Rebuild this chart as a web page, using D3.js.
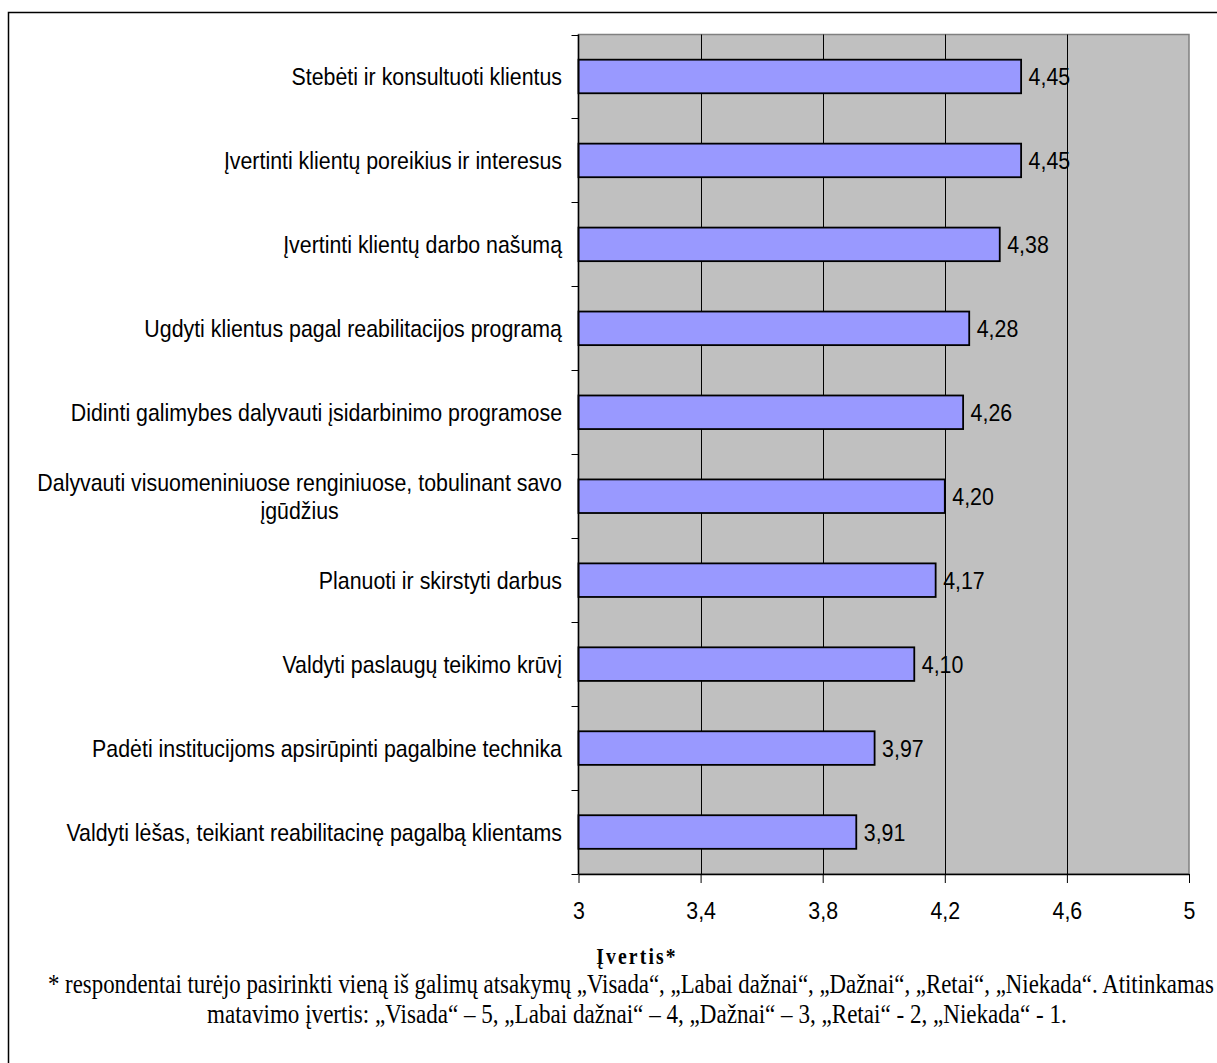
<!DOCTYPE html>
<html>
<head>
<meta charset="utf-8">
<script src="https://cdn.jsdelivr.net/npm/d3@7"></script>
<style>
  body { margin: 0; background: #fff; }
  svg { display: block; }
</style>
</head>
<body>
<svg id="chart" width="1217" height="1063"></svg>
<script>
// Task categories, top to bottom
const categories = [
  "Stebėti ir konsultuoti klientus",
  "Įvertinti klientų poreikius ir interesus",
  "Įvertinti klientų darbo našumą",
  "Ugdyti klientus pagal reabilitacijos programą",
  "Didinti galimybes dalyvauti įsidarbinimo programose",
  "Dalyvauti visuomeniniuose renginiuose, tobulinant savo\nįgūdžius",
  "Planuoti ir skirstyti darbus",
  "Valdyti paslaugų teikimo krūvį",
  "Padėti institucijoms apsirūpinti pagalbine technika",
  "Valdyti lėšas, teikiant reabilitacinę pagalbą klientams"
];

// Mean score per category
const values = [4.45, 4.45, 4.38, 4.28, 4.26, 4.20, 4.17, 4.10, 3.97, 3.91];

// Value axis
const xDomain = [3, 5];
const xTicks = [3, 3.4, 3.8, 4.2, 4.6, 5];

const axisTitle = "Įvertis*";
const footnoteLines = [
  "* respondentai turėjo pasirinkti vieną iš galimų atsakymų „Visada“, „Labai dažnai“, „Dažnai“, „Retai“, „Niekada“. Atitinkamas",
  "matavimo įvertis: „Visada“ – 5, „Labai dažnai“ – 4, „Dažnai“ – 3, „Retai“ - 2, „Niekada“ - 1."
];

// ---- layout & style ----
const plot = { left: 578.5, right: 1189, top: 34.5, bottom: 874 };
const SANS = "'Liberation Sans', Arial, sans-serif";
const SERIF = "'Liberation Serif', 'Times New Roman', serif";
const sansSize = 24, sansNarrow = 0.89;
const serifSize = 27, serifNarrow = 0.855;

const locale = d3.formatLocale({ decimal: ",", thousands: " ", grouping: [3], currency: ["", " €"] });
const fmtValue = locale.format(".2f");
const fmtTick = locale.format("~g");

const svg = d3.select("#chart");

// Outer frame
svg.append("rect")
  .attr("x", 8.5).attr("y", 12.5)
  .attr("width", 1240).attr("height", 1080)
  .attr("fill", "none").attr("stroke", "#000").attr("stroke-width", 1.5);

const x = d3.scaleLinear().domain(xDomain).range([plot.left, plot.right]);
const y = d3.scaleBand().domain(categories).range([plot.top, plot.bottom])
  .paddingInner(0.6).paddingOuter(0.3);

// Plot background
svg.append("rect")
  .attr("x", plot.left).attr("y", plot.top)
  .attr("width", plot.right - plot.left).attr("height", plot.bottom - plot.top)
  .attr("fill", "#C0C0C0").attr("stroke", "#808080").attr("stroke-width", 1.5);

// Vertical gridlines
svg.append("g").selectAll("line")
  .data(xTicks.filter(t => t > xDomain[0] && t < xDomain[1]))
  .join("line")
  .attr("x1", d => Math.round(x(d)) + 0.5).attr("x2", d => Math.round(x(d)) + 0.5)
  .attr("y1", plot.top).attr("y2", plot.bottom)
  .attr("stroke", "#000").attr("stroke-width", 1);

// Bars
svg.append("g").selectAll("rect")
  .data(categories)
  .join("rect")
  .attr("x", x(xDomain[0]))
  .attr("y", d => y(d))
  .attr("width", (d, i) => x(values[i]) - x(xDomain[0]))
  .attr("height", y.bandwidth())
  .attr("fill", "#9999FF")
  .attr("stroke", "#000").attr("stroke-width", 1.8);

// Narrowed text helper: text drawn at origin, then translated & horizontally scaled
function narrowText(parent, str, px, py, opts) {
  return parent.append("text")
    .attr("transform", `translate(${px},${py}) scale(${opts.k},1)`)
    .attr("font-family", opts.family)
    .attr("font-size", opts.size)
    .attr("font-weight", opts.weight || "normal")
    .attr("letter-spacing", opts.spacing || 0)
    .attr("text-anchor", opts.anchor || "start")
    .attr("fill", "#000")
    .text(str);
}

// Value labels
const valG = svg.append("g");
categories.forEach((c, i) => {
  narrowText(valG, fmtValue(values[i]), x(values[i]) + 7.5, y(c) + y.bandwidth() / 2 + 8.5,
    { k: sansNarrow, family: SANS, size: sansSize });
});

// Category axis: line + ticks at slot boundaries
const step = y.step();
const bounds = d3.range(categories.length + 1).map(i => plot.top + i * step);
svg.append("line")
  .attr("x1", plot.left).attr("x2", plot.left)
  .attr("y1", plot.top).attr("y2", plot.bottom)
  .attr("stroke", "#000").attr("stroke-width", 1.5);
svg.append("g").selectAll("line")
  .data(bounds)
  .join("line")
  .attr("x1", plot.left - 7).attr("x2", plot.left)
  .attr("y1", d => Math.round(d) + 0.5).attr("y2", d => Math.round(d) + 0.5)
  .attr("stroke", "#000").attr("stroke-width", 1);

// Category labels (right-aligned block, multi-line centred within it)
const labG = svg.append("g");
const labelRight = 562;
const lineGap = 28;
categories.forEach(c => {
  const lines = c.split("\n");
  const cy = y(c) + y.bandwidth() / 2;
  if (lines.length === 1) {
    narrowText(labG, lines[0], labelRight, cy + 8.5,
      { k: sansNarrow, family: SANS, size: sansSize, anchor: "end" });
  } else {
    const probe = labG.append("text").attr("font-family", SANS).attr("font-size", sansSize);
    const widths = lines.map(l => { probe.text(l); return probe.node().getComputedTextLength(); });
    probe.remove();
    const blockW = d3.max(widths) * sansNarrow;
    const cx = labelRight - blockW / 2;
    const y0 = cy + 8.5 - (lines.length - 1) * lineGap / 2;
    lines.forEach((l, j) => {
      narrowText(labG, l, cx, y0 + j * lineGap,
        { k: sansNarrow, family: SANS, size: sansSize, anchor: "middle" });
    });
  }
});

// Value axis
const xAxis = svg.append("g")
  .attr("transform", `translate(0,${plot.bottom})`)
  .call(d3.axisBottom(x).tickValues(xTicks).tickFormat(fmtTick).tickSize(9).tickPadding(19).tickSizeOuter(0));
xAxis.select(".domain").attr("stroke", "#000").attr("stroke-width", 1.5);
xAxis.selectAll(".tick line").attr("stroke", "#000");
xAxis.selectAll(".tick text")
  .attr("font-family", SANS).attr("font-size", sansSize).attr("fill", "#000")
  .attr("transform", `scale(${sansNarrow},1)`);

// Axis title
const cxNote = 637;
narrowText(svg, axisTitle, cxNote, 964,
  { k: serifNarrow, family: SERIF, size: 23, weight: "bold", anchor: "middle", spacing: 2.5 });

// Footnote: first line fills the width from the left margin, second is centred
const noteLeft = 48, noteRight = 1214;
const first = narrowText(svg, footnoteLines[0], noteLeft, 993,
  { k: 1, family: SERIF, size: serifSize, anchor: "start" });
const natural = first.node().getComputedTextLength();
first.attr("transform", `translate(${noteLeft},993) scale(${(noteRight - noteLeft) / natural},1)`);
narrowText(svg, footnoteLines[1], cxNote, 1023,
  { k: serifNarrow, family: SERIF, size: serifSize, anchor: "middle" });
</script>
</body>
</html>
